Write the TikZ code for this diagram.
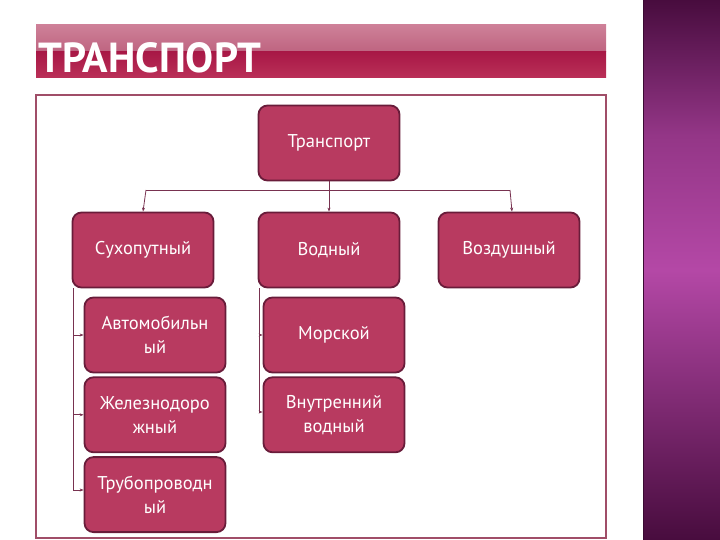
\documentclass[tikz,border=0pt]{standalone}
\usepackage{fontspec}
\setmainfont{PT Sans}
\newfontfamily\boxfont{PT Sans}
\usetikzlibrary{arrows.meta,positioning}
\definecolor{boxfill}{RGB}{184,58,96}
\definecolor{boxedge}{RGB}{105,28,58}
\definecolor{linkc}{RGB}{120,50,80}
\definecolor{framec}{RGB}{160,78,104}
\definecolor{barlight}{RGB}{206,128,152}
\definecolor{barmid}{RGB}{190,100,128}
\definecolor{bardark}{RGB}{168,24,70}
\definecolor{barlow}{RGB}{186,48,88}
\definecolor{banddark}{RGB}{72,12,62}
\definecolor{bandmid}{RGB}{180,72,166}

\begin{document}
\begin{tikzpicture}[
      x=1pt, y=-1pt,
      box/.style={draw=boxedge, line width=1.8pt, fill=boxfill, rounded corners=9pt,
        minimum width=141pt, minimum height=75pt, align=center,
        text=white, font=\boxfont\fontsize{18.5}{24}\selectfont, inner sep=2pt},
      link/.style={-{Stealth[length=4pt,width=3pt]}, linkc, line width=0.8pt},
      trunk/.style={linkc, line width=0.8pt}
    ]
      \useasboundingbox (0,0) rectangle (720,540);

      % side band
      \shade[top color=banddark, bottom color=bandmid, middle color=bandmid!70!banddark]
        (643,0) rectangle (720,270);
      \shade[top color=bandmid, bottom color=banddark] (643,270) rectangle (720,540);
      \draw[banddark!80!black, line width=1pt] (643,0) -- (643,540);

      % title bar
      \shade[top color=barlight, bottom color=barmid] (36,25) rectangle (606,52);
      \shade[top color=bardark, bottom color=barlow] (36,52) rectangle (606,78);
      \node[anchor=base west, text=white, inner sep=0pt,
        font=\bfseries\fontsize{42}{42}\selectfont] (title) at (38,73) {ТРАНСПОРТ};

      % frame
      \draw[framec, line width=2pt] (36,95) rectangle (606,538);

      \node[box] (top) at (329,143) {Транспорт};
      \node[box] (land) at (143,250) {Сухопутный};
      \node[box] (water) at (329,250) {Водный};
      \node[box] (air) at (509,250) {Воздушный};
      \node[box] (auto) at (155,335) {Автомобильн\\ый};
      \node[box, below=3pt of auto] (rail) {Железнодоро\\жный};
      \node[box, below=3pt of rail] (pipe) {Трубопроводн\\ый};
      \node[box] (sea) at (334,335) {Морской};
      \node[box, below=3pt of sea] (inland) {Внутренний\\водный};

      % top level
      \coordinate (hub) at (329,190);
      \draw[trunk] ([xshift=3pt]hub -| land.north) -- ([xshift=1pt]hub -| air.north);
      \draw[link] (top.south) -- (water.north);
      \draw[link] ([xshift=3pt]hub -| land.north) -- (land.north);
      \draw[link] ([xshift=1pt]hub -| air.north) -- ([xshift=3pt]air.north);

      % land branch
      \coordinate (lend) at (73,490);
      \draw[trunk] (land.south -| lend) -- (lend);
      \draw[link] (auto.west -| lend) -- (auto.west);
      \draw[link] (rail.west -| lend) -- (rail.west);
      \draw[link] (lend) -- (lend -| pipe.west);

      % water branch
      \coordinate (wend) at (259,412);
      \draw[trunk] (water.south -| wend) -- (wend);
      \draw[link] (sea.west -| wend) -- (sea.west);
      \draw[link] (wend) -- (wend -| inland.west);
    \end{tikzpicture}
\end{document}
